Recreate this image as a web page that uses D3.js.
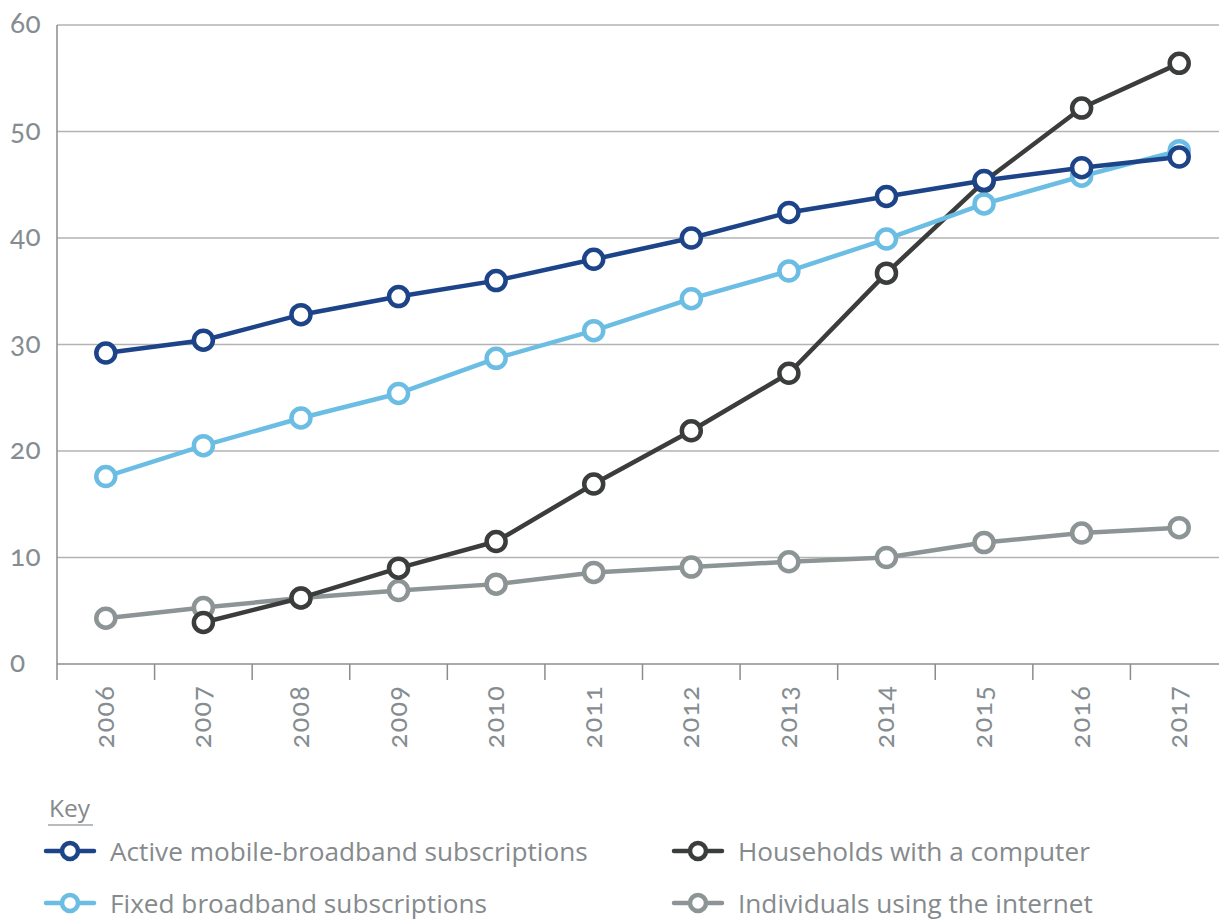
<!DOCTYPE html>
<html>
<head>
<meta charset="utf-8">
<script src="https://cdn.jsdelivr.net/npm/d3@7/dist/d3.min.js"></script>
<style>
  html, body { margin: 0; padding: 0; background: #fff; }
  svg { display: block; }
  .tick-label { font-variant-numeric: oldstyle-nums; font-feature-settings: "onum" 1; }
</style>
</head>
<body>
<svg id="chart" width="1219" height="920"></svg>
<script>
// Years on the x axis
const years = ["2006","2007","2008","2009","2010","2011","2012","2013","2014","2015","2016","2017"];
// Y axis ticks
const yTicks = [0, 10, 20, 30, 40, 50, 60];

// Series values (per 100 inhabitants)
const mobileBroadband = [29.2, 30.4, 32.8, 34.5, 36.0, 38.0, 40.0, 42.4, 43.9, 45.4, 46.6, 47.6];
const fixedBroadband  = [17.6, 20.5, 23.1, 25.4, 28.7, 31.3, 34.3, 36.9, 39.9, 43.2, 45.8, 48.2];
const households      = [null, 3.9, 6.2, 9.0, 11.5, 16.9, 21.9, 27.3, 36.7, 45.3, 52.2, 56.4];
const individuals     = [4.3, 5.3, 6.2, 6.9, 7.5, 8.6, 9.1, 9.6, 10.0, 11.4, 12.3, 12.8];

const seriesNames = [
  "Active mobile-broadband subscriptions",
  "Fixed broadband subscriptions",
  "Households with a computer",
  "Individuals using the internet"
];
const seriesColors = ["#1d4488", "#6bbde3", "#3b3c3c", "#8d9496"];

const series = [
  { name: seriesNames[3], color: seriesColors[3], values: individuals },
  { name: seriesNames[2], color: seriesColors[2], values: households },
  { name: seriesNames[1], color: seriesColors[1], values: fixedBroadband },
  { name: seriesNames[0], color: seriesColors[0], values: mobileBroadband }
];

const svg = d3.select("#chart");
const plotLeft = 57, plotRight = 1228, plotTop = 25, plotBottom = 664;

const x = d3.scaleBand().domain(years).range([plotLeft, plotRight]);
const y = d3.scaleLinear().domain([0, 60]).range([plotBottom, plotTop]);

// Horizontal gridlines
svg.append("g").selectAll("line")
  .data(yTicks.filter(d => d > 0))
  .join("line")
  .attr("x1", plotLeft).attr("x2", 1219)
  .attr("y1", d => y(d)).attr("y2", d => y(d))
  .attr("stroke", "#b3b3b3").attr("stroke-width", 1.5);

// Y axis line
svg.append("line")
  .attr("x1", plotLeft).attr("x2", plotLeft)
  .attr("y1", plotTop).attr("y2", plotBottom + 16)
  .attr("stroke", "#8c8c8c").attr("stroke-width", 1.5);

// X axis line and band ticks
svg.append("line")
  .attr("x1", plotLeft).attr("x2", 1219)
  .attr("y1", plotBottom).attr("y2", plotBottom)
  .attr("stroke", "#8c8c8c").attr("stroke-width", 1.5);
svg.append("g").selectAll("line")
  .data(years.slice(1))
  .join("line")
  .attr("x1", d => x(d)).attr("x2", d => x(d))
  .attr("y1", plotBottom).attr("y2", plotBottom + 16)
  .attr("stroke", "#8c8c8c").attr("stroke-width", 1.5);

// Y tick labels
svg.append("g").selectAll("text")
  .data(yTicks)
  .join("text")
  .attr("class", "tick-label")
  .attr("x", 10)
  .attr("y", d => y(d) + 8)
  .attr("font-family", "Lato, 'Open Sans', sans-serif")
  .attr("font-size", 28)
  .attr("letter-spacing", 0.5)
  .attr("fill", "#858d91")
  .text(d => d);

// X tick labels, rotated
svg.append("g").selectAll("text")
  .data(years)
  .join("text")
  .attr("class", "tick-label")
  .attr("transform", d => `translate(${x(d) + x.bandwidth() / 2 + 8},685) rotate(-90)`)
  .attr("text-anchor", "end")
  .attr("font-family", "Lato, 'Open Sans', sans-serif")
  .attr("font-size", 27)
  .attr("letter-spacing", 1.2)
  .attr("fill", "#858d91")
  .text(d => d);

const cx = d => x(d) + x.bandwidth() / 2;

// Lines and markers
const line = d3.line()
  .defined(d => d.v != null)
  .x(d => cx(d.year))
  .y(d => y(d.v));

series.forEach(s => {
  const pts = years.map((yr, i) => ({ year: yr, v: s.values[i] }));
  const g = svg.append("g");
  g.append("path")
    .datum(pts)
    .attr("d", line)
    .attr("fill", "none")
    .attr("stroke", s.color)
    .attr("stroke-width", 4.5)
    .attr("stroke-linejoin", "round");
  g.selectAll("circle")
    .data(pts.filter(p => p.v != null))
    .join("circle")
    .attr("cx", p => cx(p.year))
    .attr("cy", p => y(p.v))
    .attr("r", 9.5)
    .attr("fill", "#fff")
    .attr("stroke", s.color)
    .attr("stroke-width", 4.5);
});

// Legend
const legend = svg.append("g").attr("font-family", "'Open Sans', 'Noto Sans', sans-serif");
legend.append("text")
  .attr("x", 49).attr("y", 817)
  .attr("font-size", 24.5)
  .attr("fill", "#858a8d")
  .text("Key");
legend.append("line")
  .attr("x1", 48).attr("x2", 93)
  .attr("y1", 825).attr("y2", 825)
  .attr("stroke", "#a0a4a6").attr("stroke-width", 1.5);

const legendItems = [
  { name: seriesNames[0], color: seriesColors[0], col: 0, row: 0 },
  { name: seriesNames[1], color: seriesColors[1], col: 0, row: 1 },
  { name: seriesNames[2], color: seriesColors[2], col: 1, row: 0 },
  { name: seriesNames[3], color: seriesColors[3], col: 1, row: 1 }
];
const colX = [70, 698];
const rowY = [851, 903];

legendItems.forEach(it => {
  const mx = colX[it.col], my = rowY[it.row];
  legend.append("line")
    .attr("x1", mx - 24).attr("x2", mx + 24)
    .attr("y1", my).attr("y2", my)
    .attr("stroke", it.color).attr("stroke-width", 4.5)
    .attr("stroke-linecap", "round");
  legend.append("circle")
    .attr("cx", mx).attr("cy", my).attr("r", 8)
    .attr("fill", "#fff")
    .attr("stroke", it.color).attr("stroke-width", 4.5);
  legend.append("text")
    .attr("x", mx + 40).attr("y", my + 10)
    .attr("font-size", 26.2)
    .attr("fill", "#858a8d")
    .text(it.name);
});
</script>
</body>
</html>
